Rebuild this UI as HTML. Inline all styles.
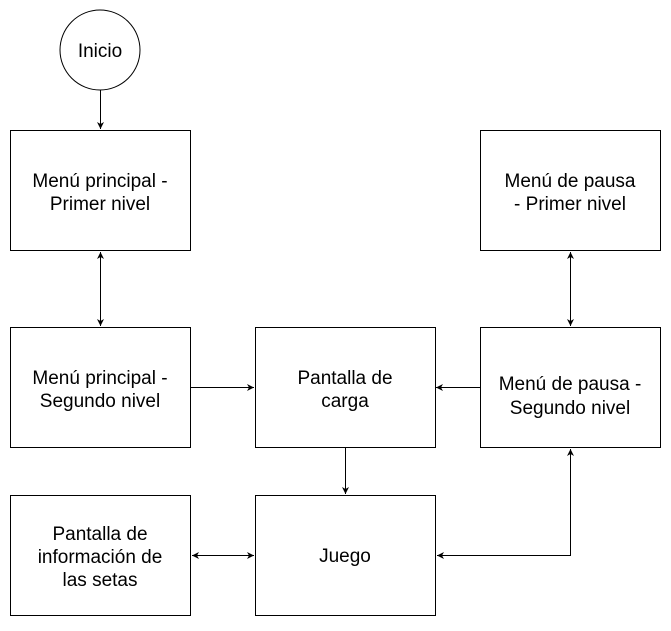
<!DOCTYPE html>
<html><head><meta charset="utf-8"><style>
html,body{margin:0;padding:0;background:#fff;}
svg text{font-family:"Liberation Sans",Arial,sans-serif;font-size:19px;fill:#000;}
</style></head><body>
<svg width="671" height="626" viewBox="0 0 671 626" xmlns="http://www.w3.org/2000/svg">
<defs>
<marker id="a" markerWidth="8" markerHeight="8" refX="7" refY="4" orient="auto-start-reverse" markerUnits="userSpaceOnUse">
<path d="M0,0.5 L7,4 L0,7.5 L2,4 Z" fill="#000"/>
</marker>
</defs>
<g fill="#fff" stroke="#000" stroke-width="1">
<circle cx="100" cy="50" r="40"/>
<rect x="10.5" y="130.5" width="180" height="120"/>
<rect x="10.5" y="327.5" width="180" height="120"/>
<rect x="255.5" y="327.5" width="180" height="120"/>
<rect x="480.5" y="130.5" width="180" height="120"/>
<rect x="480.5" y="327.5" width="180" height="120"/>
<rect x="10.5" y="495.5" width="180" height="120"/>
<rect x="255.5" y="495.5" width="180" height="120"/>
</g>
<g stroke="#000" stroke-width="1" fill="none">
<path d="M100.5 90 V129" marker-end="url(#a)"/>
<path d="M100.5 252 V326" marker-start="url(#a)" marker-end="url(#a)"/>
<path d="M190 387.5 H254" marker-end="url(#a)"/>
<path d="M480 387.5 H436" marker-end="url(#a)"/>
<path d="M345.5 447 V494" marker-end="url(#a)"/>
<path d="M192 555.5 H254" marker-start="url(#a)" marker-end="url(#a)"/>
<path d="M437 555.5 H570.5 V449" marker-start="url(#a)" marker-end="url(#a)"/>
<path d="M570.5 252 V326" marker-start="url(#a)" marker-end="url(#a)"/>
</g>
<g text-anchor="middle">
<text x="100" y="57">Inicio</text>
<text x="100" y="187">Menú principal -</text>
<text x="100" y="210">Primer nivel</text>
<text x="100" y="384">Menú principal -</text>
<text x="100" y="407">Segundo nivel</text>
<text x="345" y="384">Pantalla de</text>
<text x="345" y="407">carga</text>
<text x="570" y="187">Menú de pausa</text>
<text x="570" y="210">- Primer nivel</text>
<text x="570" y="390">Menú de pausa -</text>
<text x="570" y="414">Segundo nivel</text>
<text x="100" y="540">Pantalla de</text>
<text x="100" y="563">información de</text>
<text x="100" y="586">las setas</text>
<text x="345" y="562">Juego</text>
</g>
</svg>
</body></html>
